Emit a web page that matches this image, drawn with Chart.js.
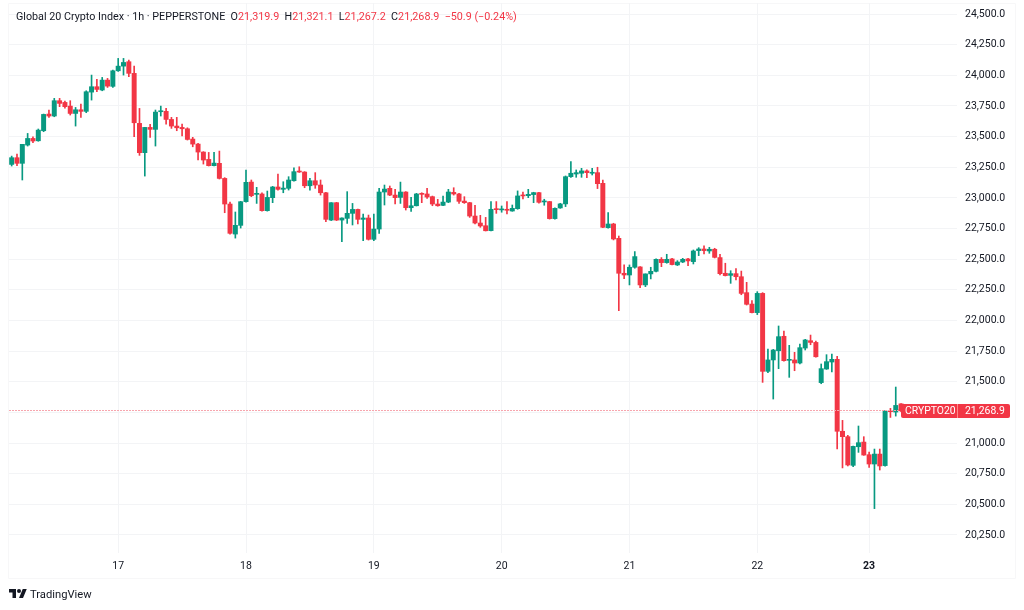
<!DOCTYPE html>
<html><head><meta charset="utf-8">
<style>
html,body{margin:0;padding:0;background:#fff;width:1024px;height:610px;overflow:hidden;position:relative;font-family:Roboto,"Liberation Sans",sans-serif}
canvas{position:absolute;left:0;top:0}
.legend{position:absolute;left:16px;top:10px;font-size:10.75px;line-height:14px;color:#131722;white-space:pre}
.legend b{font-weight:400;color:#f23645}
.tag{position:absolute;left:901px;top:403.5px;height:14.5px;line-height:14.5px;background:#f23645;color:#fff;font-size:10.4px;border-radius:2px;white-space:pre;width:109px}
.tag span{position:absolute;top:0}
.tag i{position:absolute;left:56px;top:0;width:1px;height:14.5px;background:#f88}
.tip{position:absolute;left:898px;top:407px;width:0;height:0;border-top:3.5px solid transparent;border-bottom:3.5px solid transparent;border-right:4px solid #f23645}
.brand{position:absolute;left:9px;top:587px;height:14px;display:flex;align-items:center;color:#131722;font-size:11.2px}
</style></head><body>
<canvas id="c" width="1024" height="610"></canvas>
<div class="legend">Global 20 Crypto Index · 1h · PEPPERSTONE  O<b>21,319.9</b>  H<b>21,321.1</b>  L<b>21,267.2</b>  C<b>21,268.9</b>  <b>−50.9 (−0.24%)</b></div>
<div class="tip"></div>
<div class="tag"><span style="left:4px">CRYPTO20</span><i></i><span style="left:64px">21,268.9</span></div>
<div class="brand"><svg width="18" height="14" viewBox="0 0 36 28" style="margin-right:3px"><path fill="#131722" d="M14 22H7V11H0V4h14v18zM28 22h-8l7.5-18h8L28 22z"/><circle fill="#131722" cx="20" cy="8" r="4"/></svg>TradingView</div>
<script src="https://cdn.jsdelivr.net/npm/chart.js@4/dist/chart.umd.js"></script>
<script>
const opens=[23273,23328,23282,23431,23485,23466,23548,23684,23668,23793,23779,23749,23689,23719,23706,23863,23907,23880,23961,23910,24037,24075,24111,24016,23608,23369,23575,23559,23703,23706,23640,23586,23575,23564,23480,23439,23374,23314,23263,23282,23159,22950,22705,22776,22969,
23129,23029,23032,22896,23002,23089,23070,23078,23140,23219,23211,23099,23140,23105,23042,22819,22961,22819,22833,22874,22906,22825,22836,22662,22746,23048,23078,23023,23004,23048,22920,22936,23037,23032,23010,22950,22939,22966,23045,23032,22974,22961,22852,22795,22773,
22733,22910,22902,22904,22893,22912,23021,23018,23027,23043,22967,22970,22831,22918,22951,23173,23195,23201,23220,23201,23206,23119,22757,22787,22670,22385,22371,22434,22437,22290,22380,22401,22499,22472,22502,22453,22477,22502,22480,22570,22583,22567,22581,22513,22385,
22368,22382,22357,22227,22134,22064,22221,21585,21678,21753,21871,21675,21678,21653,21775,21835,21821,21493,21604,21661,21683,21096,21052,20818,20970,21008,20905,20829,20910,20816,21264,21253,21319.9];
const highs=[23341,23358,23437,23526,23499,23562,23684,23717,23812,23812,23790,23793,23738,23766,23874,24002,23967,23983,23975,24043,24138,24138,24124,24075,23730,23575,23600,23717,23749,23730,23657,23657,23602,23572,23494,23445,23377,23371,23371,23382,23165,22966,22885,22972,23227,
23146,23086,23042,23056,23094,23195,23132,23173,23246,23254,23214,23159,23206,23146,23045,22961,22964,22838,23051,22955,22909,22868,22860,22868,23078,23105,23097,23070,23129,23051,23004,23037,23042,23078,23015,22988,23015,23070,23083,23037,23010,22964,22939,22858,22841,
22970,22970,22934,22970,22942,23057,23048,23070,23046,23046,22989,22972,22918,22956,23179,23296,23228,23241,23228,23241,23250,23146,22880,22793,22689,22453,22453,22562,22439,22380,22434,22502,22513,22540,22507,22488,22507,22507,22575,22594,22608,22597,22589,22540,22467,
22406,22423,22403,22311,22162,22235,22227,21767,21764,21955,21914,21797,21740,21808,21846,21881,21832,21645,21721,21726,21707,21185,21063,20976,21139,21052,20927,20951,20951,21264,21283,21457,21321.1];
const lows=[23260,23263,23146,23423,23450,23462,23540,23657,23662,23744,23733,23676,23586,23657,23695,23798,23866,23874,23901,23901,24032,24002,23988,23499,23347,23178,23494,23423,23668,23602,23567,23548,23505,23472,23417,23309,23276,23260,23260,23154,22879,22705,22672,22754,22965,
23010,22955,22892,22892,22961,23064,23042,23064,23136,23208,23083,23064,23078,23023,22806,22815,22815,22643,22792,22779,22787,22651,22656,22651,22711,22942,23018,22950,22955,22901,22890,22934,22961,22996,22936,22932,22936,22961,23023,22955,22955,22841,22787,22760,22730,
22730,22874,22883,22869,22891,22907,22991,23002,22961,22956,22940,22827,22827,22915,22929,23168,23168,23168,23165,23187,23076,22757,22753,22657,22080,22341,22290,22426,22268,22276,22339,22396,22439,22467,22453,22448,22472,22448,22461,22529,22543,22548,22510,22371,22363,
22303,22330,22210,22126,22061,22048,21495,21574,21359,21607,21669,21536,21590,21645,21759,21802,21701,21484,21601,21580,20952,20797,20813,20807,20924,20900,20802,20465,20780,20812,21209,21220,21267.2];
const closes=[23328,23282,23437,23485,23464,23553,23681,23668,23793,23771,23744,23689,23719,23706,23866,23907,23885,23961,23912,24037,24075,24105,24016,23613,23369,23575,23559,23700,23708,23640,23586,23572,23564,23477,23439,23374,23309,23263,23284,23159,22950,22711,22776,22969,23127,
23018,23032,22896,23004,23089,23070,23080,23146,23214,23211,23099,23140,23105,23042,22825,22961,22819,22836,22874,22906,22825,22836,22662,22746,23048,23072,23023,23002,23048,22920,22936,23032,23029,23007,22950,22936,22966,23048,23032,22972,22961,22852,22795,22771,22732,
22907,22904,22910,22899,22915,23016,23016,23029,23043,22964,22975,22831,22915,22951,23173,23201,23206,23220,23206,23209,23116,22760,22787,22665,22385,22371,22434,22521,22290,22380,22401,22499,22472,22499,22456,22477,22499,22486,22567,22583,22570,22581,22515,22382,22366,
22382,22357,22221,22132,22064,22221,21585,21678,21759,21868,21672,21683,21653,21778,21841,21821,21704,21607,21664,21683,21096,21052,20821,20973,21003,20902,20829,20910,20813,21261,21256,21307,21268.9];
const dayLabels={20:'17',44:'18',68:'19',92:'20',116:'21',140:'22',161:'23'};
const yTicks=[24500,24250,24000,23750,23500,23250,23000,22750,22500,22250,22000,21750,21500,21250,21000,20750,20500,20250];
const lastClose=21268.9;
const slots=178;
const labels=Array.from({length:slots},(_,i)=>dayLabels[i]||'');
const UP='#089981',DOWN='#f23645';
const colorOf=i=>closes[i]>=opens[i]?UP:DOWN;
const priceLine={id:'priceLine',afterDatasetsDraw(ch){const y=Math.floor(ch.scales.y.getPixelForValue(lastClose))+.5,a=ch.chartArea,g=ch.ctx;g.save();g.strokeStyle='#f7a6ae';g.lineWidth=1;g.setLineDash([2,1]);g.beginPath();g.moveTo(a.left,y);g.lineTo(a.right,y);g.stroke();g.restore();}};
const frame={id:'frame',beforeDraw(ch){const g=ch.ctx;g.save();g.strokeStyle='#f7f7f8';g.lineWidth=1;g.beginPath();g.moveTo(8.5,3.5);g.lineTo(8.5,578.5);g.lineTo(1015.5,578.5);g.lineTo(1015.5,3.5);g.closePath();g.stroke();g.restore();}};
new Chart(document.getElementById('c'),{
 type:'bar',
 data:{labels,datasets:[
  {label:'bodies',data:opens.map((o,i)=>[o,closes[i]]),backgroundColor:opens.map((_,i)=>colorOf(i)),barThickness:4.3,grouped:false,order:1,minBarLength:1},
  {label:'wicks',data:lows.map((l,i)=>[l,highs[i]]),backgroundColor:opens.map((_,i)=>colorOf(i)),barThickness:1,grouped:false,order:2}
 ]},
 plugins:[frame,priceLine],
 options:{responsive:false,animation:false,devicePixelRatio:1,
  layout:{padding:{left:9,top:3,right:0,bottom:32}},
  plugins:{legend:{display:false},tooltip:{enabled:false}},
  scales:{
   x:{type:'category',offset:true,border:{display:false},
    grid:{offset:false,drawTicks:false,color:c=>dayLabels[c.index]?'#f3f4f6':'rgba(0,0,0,0)',lineWidth:1},
    ticks:{autoSkip:false,maxRotation:0,color:'#131722',font:c=>({family:'Roboto',size:10.5,weight:c.index===161?'bold':'normal'}),padding:7,callback:(v,i)=>dayLabels[i]||''},
    afterFit(s){s.height=25;s.paddingLeft=0;s.paddingRight=0;}},
   y:{position:'right',min:20103,max:24590,border:{display:false},
    grid:{drawTicks:false,color:'#f3f4f6',lineWidth:1},
    afterBuildTicks(s){s.ticks=yTicks.map(v=>({value:v}));},
    ticks:{color:'#131722',font:{family:'Roboto',size:10.5},padding:8,callback:v=>v.toLocaleString('en-US',{minimumFractionDigits:1})},
    afterFit(s){s.width=67;s.paddingTop=0;s.paddingBottom=0;}}
  }
 }
});
</script></body></html>
